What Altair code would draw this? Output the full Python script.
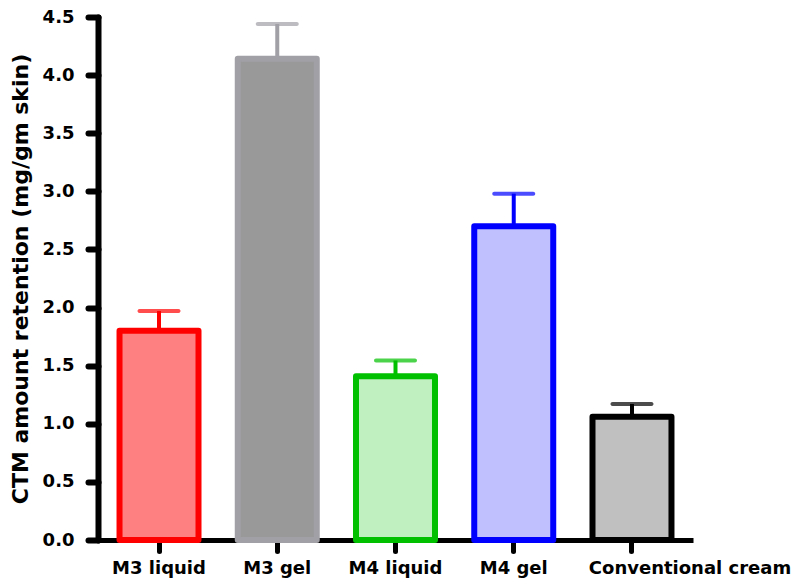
import altair as alt
import pandas as pd

categories = ["M3 liquid", "M3 gel", "M4 liquid", "M4 gel", "Conventional cream"]
means = [1.80, 4.14, 1.41, 2.70, 1.06]
uppers = [1.97, 4.44, 1.545, 2.98, 1.17]
fill_colors = ["#FF8080", "#999999", "#C0F0C0", "#C0C0FF", "#C0C0C0"]
stroke_colors = ["#FF0000", "#A0A0A6", "#00C000", "#0000FF", "#000000"]
y_ticks = [0, 0.5, 1.0, 1.5, 2.0, 2.5, 3.0, 3.5, 4.0, 4.5]

df = pd.DataFrame({"cat": categories, "mean": means, "upper": uppers})

FONT = "DejaVu Sans"

x = alt.X(
    "cat:N",
    sort=categories,
    scale=alt.Scale(paddingInner=0.332, paddingOuter=0.182),
    axis=alt.Axis(
        title=None, labelAngle=0, labelFont=FONT, labelFontSize=18,
        labelFontWeight="bold", labelColor="black", domainColor="black",
        domainWidth=5, tickColor="black", tickWidth=5, tickSize=11,
        tickCap="round", labelPadding=8, labelOverlap=False, labelLimit=400,
        labelOffset={"condition": {"test": "datum.value == 'Conventional cream'", "value": 58}, "value": 0},
    ),
)

y = alt.Y(
    "mean:Q",
    scale=alt.Scale(domain=[0, 4.5], nice=False, zero=True),
    axis=alt.Axis(
        values=y_ticks, format=".1f",
        title="CTM amount retention (mg/gm skin)",
        titleFont=FONT, titleFontSize=22, titleFontWeight="bold", titleColor="black",
        titlePadding=10,
        labelFont=FONT, labelFontSize=18, labelFontWeight="bold", labelColor="black",
        labelPadding=14, tickSize=10, tickWidth=6, tickCap="round", tickColor="black",
        domainColor="black", domainWidth=6, domainCap="round",
    ),
)

color_scale = alt.Scale(domain=categories, range=stroke_colors)

rule = alt.Chart(df).mark_rule(strokeWidth=4).encode(
    x=x, y=y, y2="upper:Q",
    color=alt.Color("cat:N", scale=color_scale, legend=None),
)

cap = alt.Chart(df).mark_tick(thickness=4, size=43, orient="horizontal", cornerRadius=2).encode(
    x=x, y=alt.Y("upper:Q"),
    color=alt.Color("cat:N", scale=color_scale, legend=None),
)

bars = alt.Chart(df).mark_bar(strokeWidth=6, strokeJoin="round").encode(
    x=x, y=y,
    fill=alt.Fill("cat:N", scale=alt.Scale(domain=categories, range=fill_colors), legend=None),
    stroke=alt.Stroke("cat:N", scale=alt.Scale(domain=categories, range=stroke_colors), legend=None),
)

chart = alt.layer(rule, bars, cap).properties(
    width=595, height=523, autosize="none",
    padding={"left": 90, "top": 9, "right": 98, "bottom": 39},
    background="white",
).configure_view(stroke=None).configure_axis(grid=False)

chart.save("out.html", embed_options={"renderer": "svg", "actions": False})
